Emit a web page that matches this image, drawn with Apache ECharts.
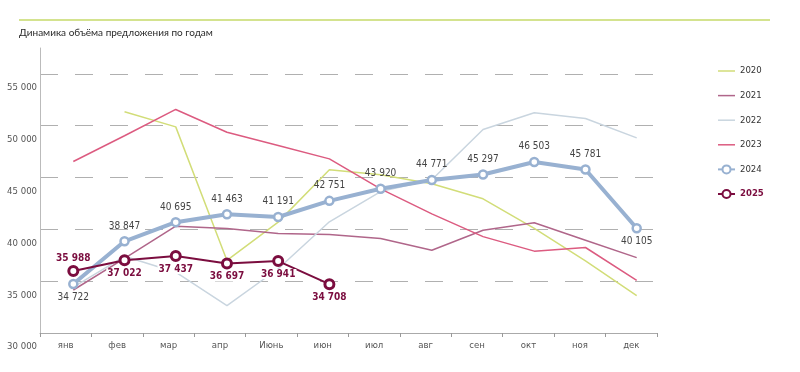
<!DOCTYPE html>
<html>
<head>
<meta charset="utf-8">
<script src="https://cdn.jsdelivr.net/npm/echarts@6/dist/echarts.min.js"></script>
<style>html,body{margin:0;padding:0;background:#fff;}#c{width:800px;height:372px;}</style>
</head>
<body>
<div id="c"></div>
<script>
const categories = ['янв','фев','мар','апр','Июнь','июн','июл','авг','сен','окт','ноя','дек'];
const yearNames = ['2020','2021','2022','2023','2024','2025'];
const s2020 = [null, 51350, 49890, 37000, 40700, 45750, 45260, 44400, 42950, 40100, 36950, 33600];
const s2021 = [34150, 37200, 40310, 40090, 39600, 39500, 39120, 37980, 39920, 40630, 38950, 37270];
const s2022 = [34420, 37400, 35870, 32640, 36200, 40730, 43640, 44780, 49630, 51250, 50700, 48830];
const s2023 = [46550, 49030, 51570, 49370, 48100, 46800, 43900, 41500, 39300, 37900, 38250, 35070];
const s2024 = [34722, 38847, 40695, 41463, 41191, 42751, 43920, 44771, 45297, 46503, 45781, 40105];
const s2025 = [35988, 37022, 37437, 36697, 36941, 34708];
const yMin = 30000, yMax = 57500, yStep = 5000;
const titleText = 'Динамика объёма предложения по годам';

const NARROW = '"Liberation Sans Narrow","DejaVu Sans Condensed",sans-serif';
const fmt = v => String(v).replace(/\B(?=(\d{3})+(?!\d))/g, ' ');

const c2020 = '#d2dd78', c2021 = '#b0668a', c2022 = '#c9d5df', c2023 = '#dc5b80', c2024 = '#98b1d1', c2025 = '#7b0d3f';
const lineIcon = 'path://M0,0L17,0L17,1.5L0,1.5Z';

function thin(name, data, color) {
  return {
    name: name, type: 'line', xAxisIndex: 1, yAxisIndex: 1, data: data,
    symbol: 'none', lineStyle: { color: color, width: 1.5 }, itemStyle: { color: color },
    connectNulls: false, z: 2
  };
}

const chart = echarts.init(document.getElementById('c'), null, { renderer: 'canvas' });
chart.setOption({
  animation: false,
  textStyle: { fontFamily: NARROW },
  graphic: [
    { type: 'line', shape: { x1: 19, y1: 20, x2: 770, y2: 20 }, style: { stroke: '#c6da6a', lineWidth: 1.5 } },
    { type: 'text', left: 19, top: 28, style: { text: titleText, fontSize: 10, fill: '#2a2a2a', fontFamily: 'Lato,"Open Sans",sans-serif' } }
  ],
  legend: {
    orient: 'vertical', left: 712, top: 61, itemWidth: 17, itemHeight: 10, itemGap: 14.6,
    textStyle: { fontSize: 9.5, color: '#333', fontFamily: NARROW },
    data: yearNames.map(n => {
      if (n === '2025') return { name: n, textStyle: { color: c2025, fontWeight: 'bold' } };
      if (n === '2024') return { name: n };
      return { name: n, icon: lineIcon };
    })
  },
  grid: [
    { left: 40, top: 48, width: 617, height: 285 },
    { left: 47.7, top: 48, width: 614.6, height: 285 }
  ],
  xAxis: [
    {
      gridIndex: 0, type: 'category', data: categories, boundaryGap: true,
      axisLine: { show: true, lineStyle: { color: '#aaa', width: 1 } },
      axisTick: { show: true, length: 4, lineStyle: { color: '#999' } },
      axisLabel: { color: '#555', fontSize: 9.5, margin: 8 },
      splitLine: { show: false }
    },
    { gridIndex: 1, type: 'category', data: categories, boundaryGap: true, show: false }
  ],
  yAxis: [
    {
      gridIndex: 0, type: 'value', min: yMin, max: yMax, interval: yStep,
      axisLine: { show: true, lineStyle: { color: '#bbb', width: 1 } },
      axisTick: { show: false },
      axisLabel: {
        color: '#555', fontSize: 9.5, margin: 3, verticalAlign: 'top', padding: [9, 0, 0, 0],
        showMaxLabel: false,
        formatter: v => (v % yStep === 0 ? fmt(v) : '')
      },
      splitLine: { show: true, showMinLine: false, showMaxLine: false, lineStyle: { color: '#b0b0b0', width: 1.2, type: [18, 17] } }
    },
    { gridIndex: 1, type: 'value', min: yMin, max: yMax, interval: yStep, show: false, splitLine: { show: false } }
  ],
  series: [
    thin('2020', s2020, c2020),
    thin('2021', s2021, c2021),
    thin('2022', s2022, c2022),
    thin('2023', s2023, c2023),
    {
      name: '2024', type: 'line', xAxisIndex: 1, yAxisIndex: 1, z: 4,
      data: s2024.map((v, i) => ({ value: v, label: { position: (i === 0 || i === s2024.length - 1) ? 'bottom' : 'top', distance: (i === 0 || i === s2024.length - 1) ? 3 : 5 } })),
      symbol: 'circle', symbolSize: 8,
      itemStyle: { color: '#fff', borderColor: c2024, borderWidth: 2.5 },
      lineStyle: { color: c2024, width: 4 },
      label: { show: true, color: '#444', fontSize: 10, fontFamily: NARROW, formatter: p => fmt(p.value) }
    },
    {
      name: '2025', type: 'line', xAxisIndex: 1, yAxisIndex: 1, z: 5,
      data: s2025.map((v, i) => ({ value: v, label: { position: i === 0 ? 'top' : 'bottom', distance: 2 } })),
      symbol: 'circle', symbolSize: 9,
      itemStyle: { color: '#fff', borderColor: c2025, borderWidth: 3 },
      lineStyle: { color: c2025, width: 2 },
      label: { show: true, color: c2025, fontSize: 10, fontWeight: 'bold', fontFamily: NARROW, backgroundColor: '#fff', padding: [0, 1], formatter: p => fmt(p.value) }
    }
  ]
});
</script>
</body>
</html>
